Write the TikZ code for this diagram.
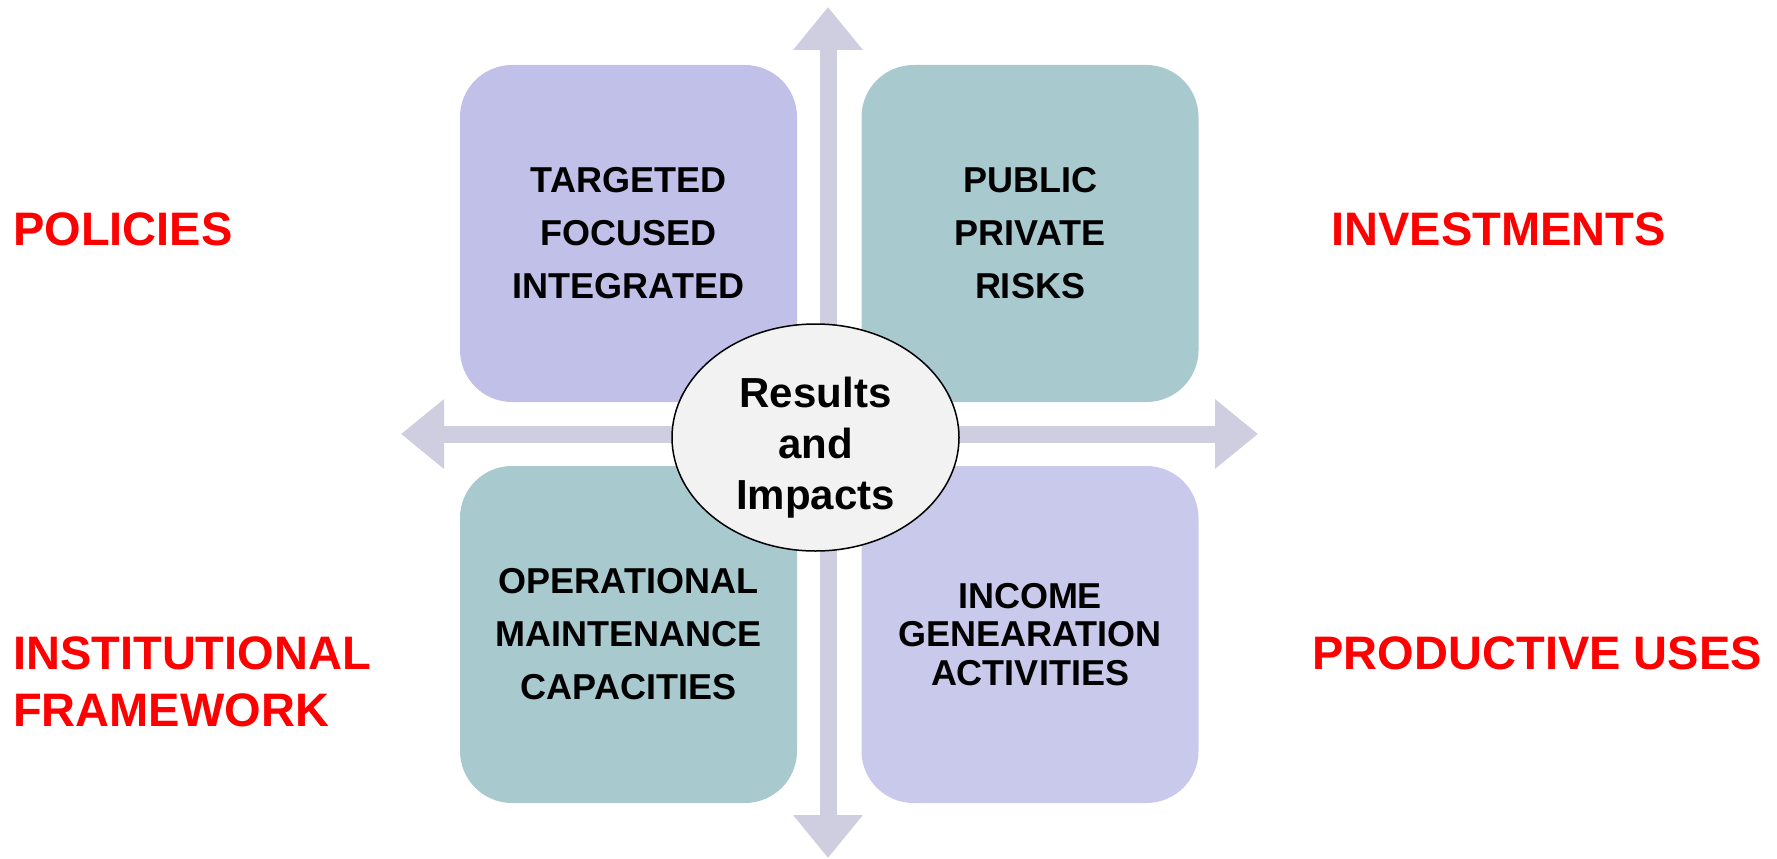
\documentclass[tikz,border=0pt]{standalone}
\usepackage{fontspec}
\setmainfont{Liberation Sans}
\usetikzlibrary{positioning,shapes.geometric,arrows.meta}
\definecolor{lavA}{HTML}{C0C0E9}
\definecolor{lavB}{HTML}{C9C9EC}
\definecolor{tealbox}{HTML}{A8CACF}
\definecolor{axisgrey}{HTML}{CFCEE0}
\definecolor{hubfill}{HTML}{F2F2F2}
\begin{document}
\begin{tikzpicture}[x=1pt, y=-1pt,
    quadbox/.style={rectangle, rounded corners=52pt, minimum width=337pt, minimum height=337pt, inner sep=0pt, align=center, font=\bfseries\fontsize{36}{53}\selectfont},
    redlabel/.style={inner sep=0pt, text=red, align=left, font=\bfseries\fontsize{47}{57}\selectfont},
    axisarrow/.style={draw=axisgrey, line width=17pt, {Triangle[width=67pt,length=43pt]}-{Triangle[width=67pt,length=43pt]}}]
    \useasboundingbox (0,0) rectangle (1777,859);

    \coordinate (up) at (828,7);
    \coordinate (down) at (828,858);
    \coordinate (left) at (401,434);
    \coordinate (right) at (1258,434);
    \draw[axisarrow] (up) -- (down);
    \draw[axisarrow] (left) -- (right);

    \node[quadbox, fill=lavA] (tgt) at (628.5,233.5) {TARGETED\\FOCUSED\\INTEGRATED};
    \node[quadbox, fill=tealbox] (pub) at (1030,233.5) {PUBLIC\\PRIVATE\\RISKS};
    \node[quadbox, fill=tealbox] (ops) at (628.5,634.5) {OPERATIONAL\\MAINTENANCE\\CAPACITIES};
    \node[quadbox, fill=lavB, font=\bfseries\fontsize{36}{38.5}\selectfont] (inc) at (1030,634.5) {INCOME\\GENEARATION\\ACTIVITIES};

    \node[ellipse, draw=black, line width=1.5pt, fill=hubfill, minimum width=287pt, minimum height=227pt, inner sep=0pt,
        label={[align=center, yshift=-10pt, font=\bfseries\fontsize{42}{51}\selectfont]center:Results\\and\\Impacts}] (hub) at (815.5,437.5) {};

    \node[redlabel, anchor=west] (pol) at (13,229) {POLICIES};
    \node[redlabel, anchor=east] (inv) at (1666,229) {INVESTMENTS};
    \node[redlabel, anchor=west] (inst) at (13,682) {INSTITUTIONAL\\FRAMEWORK};
    \node[redlabel, anchor=east] (prod) at (1762,653) {PRODUCTIVE USES};
\end{tikzpicture}
\end{document}
